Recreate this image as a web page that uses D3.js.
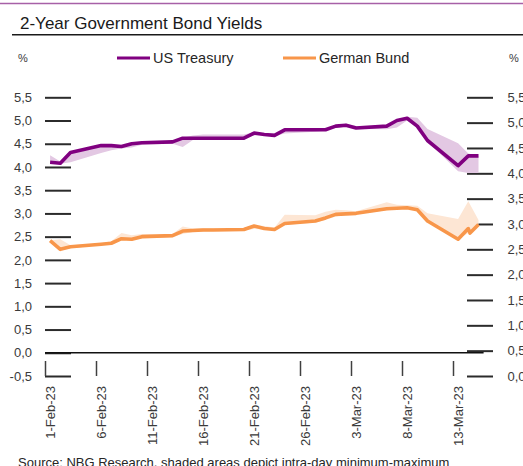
<!DOCTYPE html>
<html>
<head>
<meta charset="utf-8">
<script src="https://cdn.jsdelivr.net/npm/d3@7"></script>
<style>
  html, body { margin: 0; padding: 0; background: #ffffff; }
  svg { display: block; font-family: "Liberation Sans", Arial, sans-serif; }
</style>
</head>
<body>
<svg id="chart" width="523" height="466"></svg>
<script>
// Trading days shown on the chart
const days = [
  "2023-02-01","2023-02-02","2023-02-03","2023-02-06","2023-02-07","2023-02-08","2023-02-09","2023-02-10",
  "2023-02-13","2023-02-14","2023-02-15","2023-02-16","2023-02-17","2023-02-20","2023-02-21","2023-02-22",
  "2023-02-23","2023-02-24","2023-02-27","2023-02-28","2023-03-01","2023-03-02","2023-03-03","2023-03-06",
  "2023-03-07","2023-03-08","2023-03-09","2023-03-10","2023-03-13","2023-03-14","2023-03-15"
];

// US Treasury 2-year yield (%), left axis: close, intra-day low, intra-day high
const usTreasury = [4.10,4.08,4.31,4.46,4.46,4.44,4.50,4.52,4.54,4.62,4.62,4.62,4.62,4.62,4.73,4.70,
                    4.68,4.80,4.80,4.80,4.88,4.90,4.84,4.88,5.00,5.05,4.88,4.57,4.03,4.24,4.24];
const usLow      = [4.08,4.07,4.10,4.30,4.36,4.40,4.42,4.48,4.50,4.43,4.58,4.60,4.60,4.61,4.68,4.68,
                    4.66,4.72,4.76,4.78,4.84,4.87,4.82,4.81,4.85,5.00,4.85,4.55,3.91,3.87,3.87];
const usHigh     = [4.25,4.12,4.31,4.47,4.48,4.46,4.51,4.53,4.55,4.63,4.68,4.70,4.70,4.70,4.75,4.73,
                    4.72,4.81,4.82,4.83,4.90,4.92,4.88,4.89,5.01,5.08,5.06,4.82,4.51,4.29,4.24];

// German Bund 2-year yield (%), right axis: close, intra-day low, intra-day high
const germanBund = [2.67,2.50,2.55,2.60,2.62,2.71,2.70,2.75,2.77,2.86,2.87,2.88,2.88,2.89,2.96,2.91,
                    2.89,3.01,3.06,3.12,3.19,3.20,3.21,3.30,3.31,3.32,3.28,3.06,2.70,2.91,2.99];
const bundLow    = [2.63,2.50,2.52,2.58,2.60,2.68,2.68,2.72,2.74,2.80,2.84,2.85,2.86,2.87,2.90,2.89,
                    2.87,2.98,3.03,3.08,3.15,3.18,3.19,3.27,3.29,3.30,3.27,3.05,2.70,2.82,2.99];
const bundHigh   = [2.68,2.70,2.58,2.62,2.66,2.82,2.78,2.80,2.80,2.95,2.91,2.92,2.92,2.92,2.98,2.96,
                    2.93,3.18,3.17,3.24,3.28,3.27,3.25,3.43,3.38,3.37,3.36,3.21,3.10,3.45,3.08];

// Extra intra-day Bund quote on 14 March
const bundIntradayTime  = "2023-03-14T16:00";
const bundIntradayValue = 2.82;

// Axis ticks
const leftTicks  = [-0.5,0,0.5,1,1.5,2,2.5,3,3.5,4,4.5,5,5.5];
const rightTicks = [0,0.5,1,1.5,2,2.5,3,3.5,4,4.5,5,5.5];
const dateTicks  = ["2023-02-01","2023-02-06","2023-02-11","2023-02-16","2023-02-21",
                    "2023-02-26","2023-03-03","2023-03-08","2023-03-13"];

const titleText  = "2-Year Government Bond Yields";
const seriesNames = ["US Treasury", "German Bund"];
const sourceText = "Source: NBG Research, shaded areas depict intra-day minimum-maximum";

// ---------------------------------------------------------------
const svg = d3.select("#chart");
const W = 523;

const purple = "#800080", purpleBand = "#E3C8E3";
const orange = "#F8964A", orangeBand = "#FDE6D4";
const tickInk = "#2b2b2b", labelInk = "#3a3a3a";

const parseDay = d3.timeParse("%Y-%m-%d");
const parseTime = d3.timeParse("%Y-%m-%dT%H:%M");
const midday = s => d3.timeHour.offset(parseDay(s), 12);
// Decimal comma with a plain hyphen for negatives
const fmtTick = d => d3.format(".1f")(d).replace(".", ",").replace("\u2212", "-");

const plotLeft = 45, plotTop = 97.3, plotBottom = 376;
const dayWidth = 10.2;
const start = parseDay("2023-02-01");
const end = parseDay("2023-03-16");
const x = d3.scaleTime().domain([start, end])
  .range([plotLeft, plotLeft + dayWidth * d3.timeDay.count(start, end)]);
const yLeft = d3.scaleLinear().domain([-0.5, 5.5]).range([plotBottom, plotTop]);
const yRight = d3.scaleLinear().domain([0, 5.5]).range([plotBottom, plotTop]);

// Top frame line and title
svg.append("line").attr("x1", 0).attr("x2", W).attr("y1", 3.5).attr("y2", 3.5)
  .attr("stroke", "#A760A7").attr("stroke-width", 1.5);
svg.append("text").attr("x", 20).attr("y", 29).attr("font-size", 17).attr("fill", "#1a1a1a")
  .text(titleText);
svg.append("line").attr("x1", 12).attr("x2", W).attr("y1", 34.8).attr("y2", 34.8)
  .attr("stroke", "#1a1a1a").attr("stroke-width", 1.6);

// Unit labels
svg.append("text").attr("x", 18).attr("y", 62).attr("font-size", 11).attr("fill", labelInk).text("%");
svg.append("text").attr("x", 509).attr("y", 62).attr("font-size", 11).attr("fill", labelInk).text("%");

// Legend
const legend = [
  { name: seriesNames[0], color: purple, x0: 117 },
  { name: seriesNames[1], color: orange, x0: 283 }
];
legend.forEach(l => {
  svg.append("line").attr("x1", l.x0).attr("x2", l.x0 + 33).attr("y1", 58).attr("y2", 58)
    .attr("stroke", l.color).attr("stroke-width", 3);
  svg.append("text").attr("x", l.x0 + 36).attr("y", 63).attr("font-size", 14.5)
    .attr("fill", "#262626").text(l.name);
});

// Left axis: ticks drawn inward, labels outside
const gLeft = svg.append("g").attr("transform", `translate(${plotLeft},0)`)
  .call(d3.axisLeft(yLeft).tickValues(leftTicks).tickSize(-26).tickPadding(13).tickFormat(fmtTick));
gLeft.select(".domain").remove();
gLeft.selectAll("line").attr("stroke", tickInk).attr("stroke-width", 2);
gLeft.selectAll("text").attr("font-size", 13).attr("fill", labelInk).attr("font-family", "Liberation Sans, Arial, sans-serif");

// Right axis
const gRight = svg.append("g").attr("transform", "translate(467,0)")
  .call(d3.axisRight(yRight).tickValues(rightTicks).tickSize(26).tickPadding(14.5).tickFormat(fmtTick));
gRight.select(".domain").remove();
gRight.selectAll("line").attr("stroke", tickInk).attr("stroke-width", 2);
gRight.selectAll("text").attr("font-size", 13).attr("fill", labelInk).attr("font-family", "Liberation Sans, Arial, sans-serif");

// Date axis: tick marks at day boundaries, labels centred on the day
const gX = svg.append("g").attr("transform", "translate(0,361)")
  .call(d3.axisBottom(x).tickValues(dateTicks.map(parseDay)).tickSize(15)
    .tickFormat(d3.timeFormat("%-d-%b-%y")));
gX.select(".domain").remove();
gX.selectAll("line").attr("stroke", "#404040").attr("stroke-width", 1.5);
gX.selectAll("text")
  .attr("font-size", 13).attr("fill", labelInk).attr("font-family", "Liberation Sans, Arial, sans-serif")
  .attr("text-anchor", "end").attr("x", 0).attr("y", 0).attr("dy", "0.35em")
  .attr("transform", `translate(${dayWidth / 2},25) rotate(-90)`);

// Zero line of the left axis
svg.append("line").attr("x1", plotLeft).attr("x2", x(end)).attr("y1", yLeft(0)).attr("y2", yLeft(0))
  .attr("stroke", "#111").attr("stroke-width", 1.5);

// Series records
const us = days.map((d, i) => ({ t: midday(d), v: usTreasury[i], lo: usLow[i], hi: usHigh[i] }));
const bund = days.map((d, i) => ({ t: midday(d), v: germanBund[i], lo: bundLow[i], hi: bundHigh[i] }));
const bundLine = bund.map(d => ({ t: d.t, v: d.v }));
bundLine.push({ t: parseTime(bundIntradayTime), v: bundIntradayValue });
bundLine.sort((a, b) => a.t - b.t);

// Intra-day ranges
svg.append("path").datum(us)
  .attr("d", d3.area().x(d => x(d.t)).y0(d => yLeft(d.lo)).y1(d => yLeft(d.hi)))
  .attr("fill", purpleBand);
svg.append("path").datum(bund)
  .attr("d", d3.area().x(d => x(d.t)).y0(d => yRight(d.lo)).y1(d => yRight(d.hi)))
  .attr("fill", orangeBand);

// Closing yields
svg.append("path").datum(us)
  .attr("d", d3.line().x(d => x(d.t)).y(d => yLeft(d.v)))
  .attr("fill", "none").attr("stroke", purple).attr("stroke-width", 3.6)
  .attr("stroke-linejoin", "round");
svg.append("path").datum(bundLine)
  .attr("d", d3.line().x(d => x(d.t)).y(d => yRight(d.v)))
  .attr("fill", "none").attr("stroke", orange).attr("stroke-width", 3.6)
  .attr("stroke-linejoin", "round");

// Source note
svg.append("text").attr("x", 18).attr("y", 467).attr("font-size", 13).attr("fill", "#262626")
  .text(sourceText);
</script>
</body>
</html>
